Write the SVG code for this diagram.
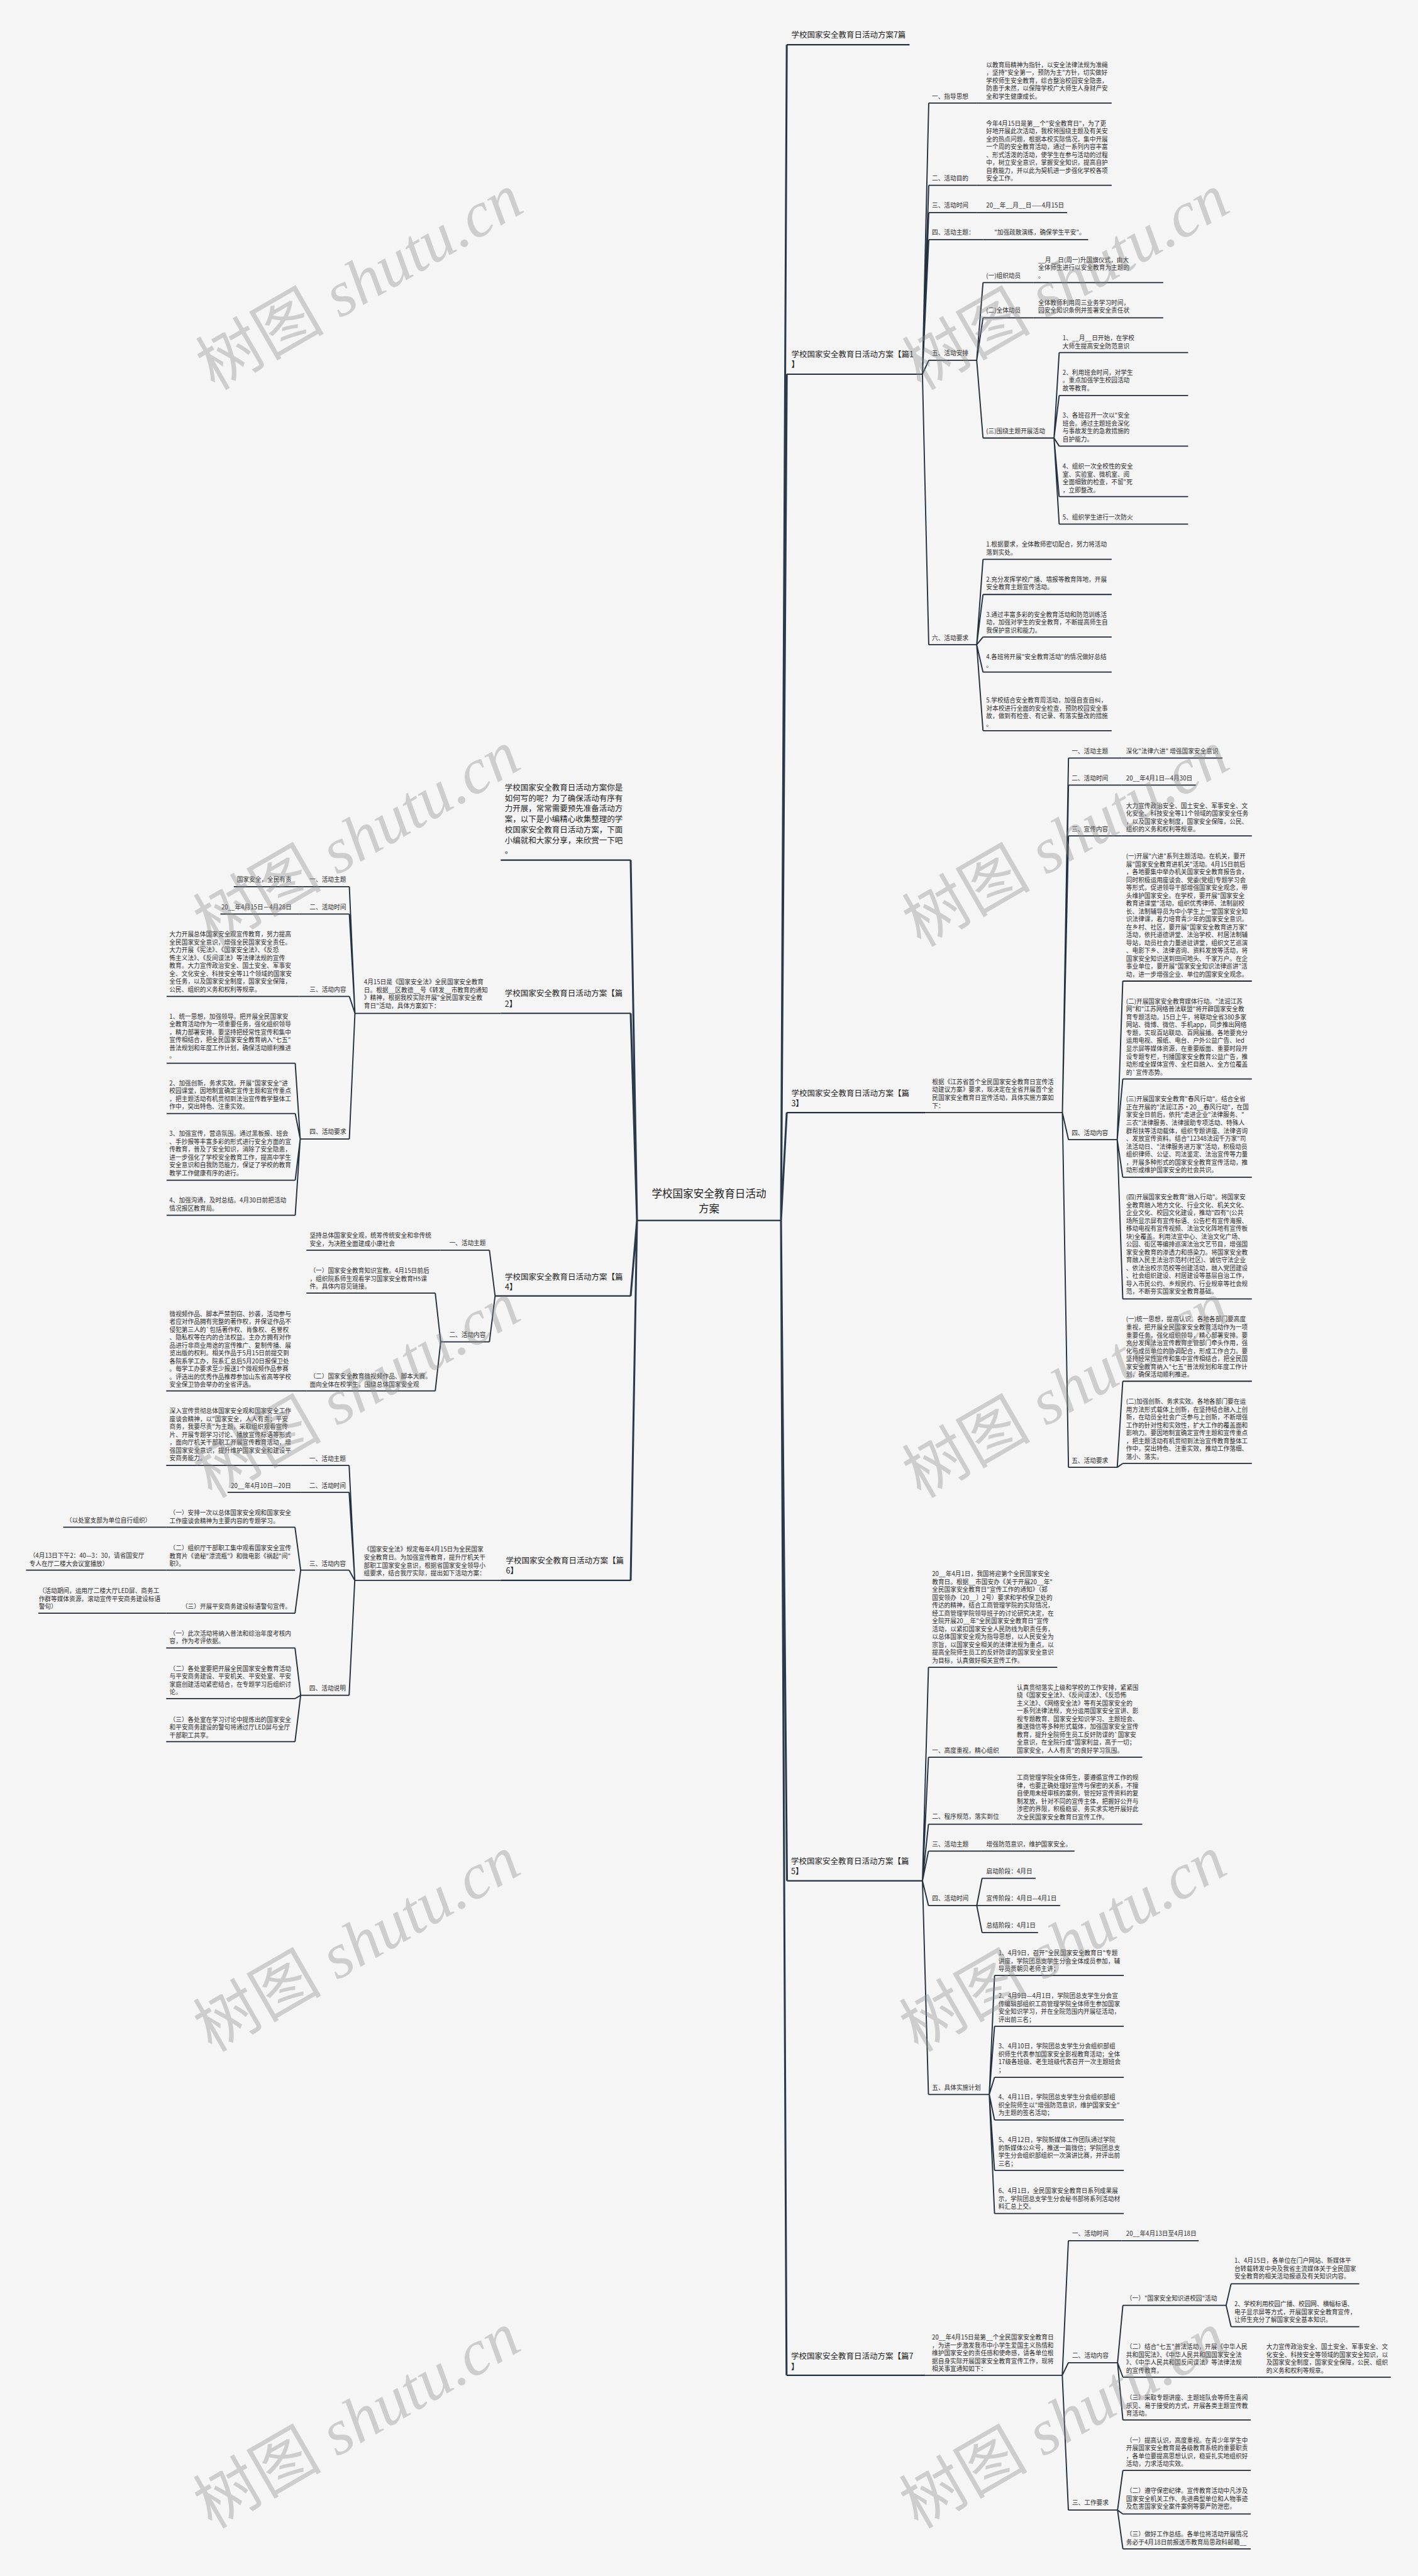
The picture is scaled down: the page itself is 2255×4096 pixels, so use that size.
<svg xmlns="http://www.w3.org/2000/svg" width="2255" height="4096" viewBox="0 0 2255 4096">
<style>
.t{font-family:"Noto Sans CJK SC","Noto Sans",sans-serif;font-size:11px;fill:#2b2b2b}
.h{font-size:14.2px;fill:#222}
.c{font-size:18.8px;fill:#1e1e1e;text-anchor:middle}
.u{stroke:#1f2a36;stroke-width:2;fill:none}
.ut{stroke:#22303f;stroke-width:2.5;fill:none}
.k1{stroke:#2a3a4b;stroke-width:3.5;fill:none}
.k2{stroke:#25323f;stroke-width:2.2;fill:none}
.wm{font-size:116px;fill:#8c8c8c;fill-opacity:.38}
</style>
<rect width="2255" height="4096" fill="#f5f5f5"/>
<g transform="scale(0.880859)">

<g id="connectors">
<path class="k1" d="M1410 2203L1420.4 80.8M1410 2203L1420.4 675.5M1410 2203L1420.4 2008.5M1410 2203L1420.8 3395.1M1410 2203L1420 4287.7M1150 2203L1138.6 1552.5M1150 2203L1138.6 1829.2M1150 2203L1138.6 2339.3M1150 2203L1138.6 2852.8"/>
<path class="k2" d="M1665.3 675.5L1676.7 186M1665.3 675.5L1676.7 334.6M1665.3 675.5L1676.7 383.9M1665.3 675.5L1676.7 432.7M1665.3 675.5L1676.7 650.3M1665.3 675.5L1676.7 1163.9
M1763.3 650.3L1774.7 510.1M1763.3 650.3L1774.7 573.7M1763.3 650.3L1774.7 790.7
M1902.9 790.7L1912.2 636.4M1902.9 790.7L1912.2 714M1902.9 790.7L1912.2 805.3M1902.9 790.7L1912.2 896.5M1902.9 790.7L1912.2 946.2
M1763.3 1163.9L1774.7 1009.7M1763.3 1163.9L1774.7 1073.1M1763.3 1163.9L1774.7 1149.8M1763.3 1163.9L1774.7 1213.2M1763.3 1163.9L1774.7 1318.9
M1918 2008.5L1929 1368.3M1918 2008.5L1929 1417.3M1918 2008.5L1929 1509M1918 2008.5L1929 2057.3M1918 2008.5L1929 2648.7
M2017 2057.3L2027 1771M2017 2057.3L2027 1947.7M2017 2057.3L2027 2125M2017 2057.3L2027 2344.7
M2017 2648.7L2027 2493.3M2017 2648.7L2027 2641.7
M1665.4 3395.1L1676.2 3009.7M1665.4 3395.1L1676.2 3172M1665.4 3395.1L1676.2 3292.9M1665.4 3395.1L1676.2 3341.5M1665.4 3395.1L1676.2 3439.8M1665.4 3395.1L1676.2 3780.7
M1763.4 3439.8L1773 3390.5M1763.4 3439.8L1773 3488.5
M1786 3780.7L1795.5 3566M1786 3780.7L1795.5 3657.7M1786 3780.7L1795.5 3749.8M1786 3780.7L1795.5 3826.9M1786 3780.7L1795.5 3917.9M1786 3780.7L1795.5 3995.8
M1917.8 4287.7L1928.8 4044.7M1917.8 4287.7L1928.8 4264.9M1917.8 4287.7L1928.8 4531
M2017.6 4264.9L2027.2 4161.4M2017.6 4264.9L2027.2 4291M2017.6 4264.9L2027.2 4368.4
M2213.6 4161.4L2222.5 4122.5M2213.6 4161.4L2222.5 4199.9
M2017.6 4531L2027.2 4459.4M2017.6 4531L2027.2 4538.1M2017.6 4531L2027.2 4601
M640.8 1829.2L630.7 1600.7M640.8 1829.2L630.7 1650M640.8 1829.2L630.7 1798.7M640.8 1829.2L630.7 2056
M542 2056L533 1919.3M542 2056L533 2010M542 2056L533 2130.5M542 2056L533 2193.7
M893.8 2339.3L883.6 2256.7M893.8 2339.3L883.6 2422.3
M795.6 2422.3L785.8 2334.3M795.6 2422.3L785.8 2510.7
M640.5 2852.8L630.3 2645.2M640.5 2852.8L630.3 2693.9M640.5 2852.8L630.3 2834.4M640.5 2852.8L630.3 3060.3
M542.8 2834.4L532.6 2756.8M542.8 2834.4L532.6 2912
M542.8 3060.3L532.6 2974.9M542.8 3060.3L532.6 3066.3M542.8 3060.3L532.6 3143.9"/>
</g>

<g id="root">
<text class="t c" x="1280" y="2162">学校国家安全教育日活动<tspan x="1280" dy="26.6">方案</tspan></text>
<path class="ut" d="M1150 2203H1410"/>
</g>

<g id="p7title">
<text class="t h" x="1428.6" y="68.5">学校国家安全教育日活动方案7篇</text>
<path class="ut" d="M1420.4 80.8H1642"/>
</g>

<g id="p1">
<text class="t h" x="1428.6" y="645">学校国家安全教育日活动方案【篇1<tspan x="1428.6" dy="18">】</tspan></text>
<path class="ut" d="M1420.4 675.5H1665.3"/>
</g>
<g id="p1-s1">
<text class="t" x="1682.4" y="178">一、指导思想</text>
<path class="u" d="M1676.7 186H1763.3"/>
</g>
<g id="p1-s1-l">
<text class="t" x="1780.4" y="121">以教育局精神为指针，以安全法律法规为准绳<tspan x="1780.4" dy="14.2">，坚持"安全第一，预防为主"方针，切实做好</tspan><tspan x="1780.4" dy="14.2">学校师生安全教育，综合整治校园安全隐患，</tspan><tspan x="1780.4" dy="14.2">防患于未然，以保障学校广大师生人身财产安</tspan><tspan x="1780.4" dy="14.2">全和学生健康成长。</tspan></text>
<path class="u" d="M1763.3 186H2007"/>
</g>
<g id="p1-s2">
<text class="t" x="1682.4" y="326">二、活动目的</text>
<path class="u" d="M1676.7 334.6H1763.3"/>
</g>
<g id="p1-s2-l">
<text class="t" x="1780.4" y="226.6">今年4月15日是第__个"安全教育日"，为了更<tspan x="1780.4" dy="14.2">好地开展此次活动，我校将围绕主题及有关安</tspan><tspan x="1780.4" dy="14.2">全的热点问题，根据本校实际情况，集中开展</tspan><tspan x="1780.4" dy="14.2">一个周的安全教育活动，通过一系列内容丰富</tspan><tspan x="1780.4" dy="14.2">、形式活泼的活动，使学生在参与活动的过程</tspan><tspan x="1780.4" dy="14.2">中，树立安全意识，掌握安全知识，提高自护</tspan><tspan x="1780.4" dy="14.2">自救能力，并以此为契机进一步强化学校各项</tspan><tspan x="1780.4" dy="14.2">安全工作。</tspan></text>
<path class="u" d="M1763.3 334.6H2007"/>
</g>
<g id="p1-s3">
<text class="t" x="1682.4" y="375.2">三、活动时间</text>
<path class="u" d="M1676.7 383.9H1763.3"/>
</g>
<g id="p1-s3-l">
<text class="t" x="1780.4" y="375.2">20__年__月__日——4月15日</text>
<path class="u" d="M1763.3 383.9H1926.5"/>
</g>
<g id="p1-s4">
<text class="t" x="1682.4" y="424">四、活动主题：</text>
<path class="u" d="M1676.7 432.7H1775"/>
</g>
<g id="p1-s4-l">
<text class="t" x="1795" y="424">"加强疏散演练，确保学生平安"。</text>
<path class="u" d="M1775 432.7H1964.5"/>
</g>
<g id="p1-s5">
<text class="t" x="1682.4" y="641.6">五、活动安排</text>
<path class="u" d="M1676.7 650.3H1763.3"/>
</g>
<g id="p1-s5-a">
<text class="t" x="1780.4" y="501.6">(一)组织动员</text>
<path class="u" d="M1774.7 510.1H1866"/>
</g>
<g id="p1-s5-a-l">
<text class="t" x="1874.3" y="473.3">__月__日(周一)升国旗仪式，由大<tspan x="1874.3" dy="14.2">全体师生进行以安全教育为主题的</tspan><tspan x="1874.3" dy="14.2">。</tspan></text>
<path class="u" d="M1866 510.1H2100"/>
</g>
<g id="p1-s5-b">
<text class="t" x="1780.4" y="564.6">(二)全体动员</text>
<path class="u" d="M1774.7 573.7H1866"/>
</g>
<g id="p1-s5-b-l">
<text class="t" x="1874.3" y="550.3">全体教师利用周三业务学习时间，<tspan x="1874.3" dy="14.2">园安全知识条例并签署安全责任状</tspan></text>
<path class="u" d="M1866 573.7H2100"/>
</g>
<g id="p1-s5-c">
<text class="t" x="1780.4" y="782.3">(三)围绕主题开展活动</text>
<path class="u" d="M1774.7 790.7H1902.9"/>
</g>
<g id="p1-s5-c1">
<text class="t" x="1918.4" y="614.3">1、__月__日开始，在学校<tspan x="1918.4" dy="14.2">大师生提高安全防范意识</tspan></text>
<path class="u" d="M1912.2 636.4H2145"/>
</g>
<g id="p1-s5-c2">
<text class="t" x="1918.4" y="676.6">2、利用班会时间，对学生<tspan x="1918.4" dy="14.2">。重点加强学生校园活动</tspan><tspan x="1918.4" dy="14.2">故等教育。</tspan></text>
<path class="u" d="M1912.2 714H2145"/>
</g>
<g id="p1-s5-c3">
<text class="t" x="1918.4" y="754">3、各班召开一次以"安全<tspan x="1918.4" dy="14.2">班会。通过主题班会深化</tspan><tspan x="1918.4" dy="14.2">与事故发生的急救措施的</tspan><tspan x="1918.4" dy="14.2">自护能力。</tspan></text>
<path class="u" d="M1912.2 805.3H2145"/>
</g>
<g id="p1-s5-c4">
<text class="t" x="1918.4" y="846.2">4、组织一次全校性的安全<tspan x="1918.4" dy="14.2">室、实验室、微机室、阅</tspan><tspan x="1918.4" dy="14.2">全面细致的检查，不留"死</tspan><tspan x="1918.4" dy="14.2">，立即整改。</tspan></text>
<path class="u" d="M1912.2 896.5H2145"/>
</g>
<g id="p1-s5-c5">
<text class="t" x="1918.4" y="937.8">5、组织学生进行一次防火</text>
<path class="u" d="M1912.2 946.2H2145"/>
</g>
<g id="p1-s6">
<text class="t" x="1682.4" y="1155.4">六、活动要求</text>
<path class="u" d="M1676.7 1163.9H1763.3"/>
</g>
<g id="p1-s6-1">
<text class="t" x="1780.4" y="986.7">1.根据要求，全体教师密切配合，努力将活动<tspan x="1780.4" dy="14.2">落到实处。</tspan></text>
<path class="u" d="M1774.7 1009.7H2007"/>
</g>
<g id="p1-s6-2">
<text class="t" x="1780.4" y="1049.7">2.充分发挥学校广播、墙报等教育阵地，开展<tspan x="1780.4" dy="14.2">安全教育主题宣传活动。</tspan></text>
<path class="u" d="M1774.7 1073.1H2007"/>
</g>
<g id="p1-s6-3">
<text class="t" x="1780.4" y="1113.2">3.通过丰富多彩的安全教育活动和防范训练活<tspan x="1780.4" dy="14.2">动，加强对学生的安全教育，不断提高师生自</tspan><tspan x="1780.4" dy="14.2">我保护意识和能力。</tspan></text>
<path class="u" d="M1774.7 1149.8H2007"/>
</g>
<g id="p1-s6-4">
<text class="t" x="1780.4" y="1190.3">4.各班将开展"安全教育活动"的情况做好总结<tspan x="1780.4" dy="14.2">。</tspan></text>
<path class="u" d="M1774.7 1213.2H2007"/>
</g>
<g id="p1-s6-5">
<text class="t" x="1780.4" y="1268.2">5.学校结合安全教育周活动，加强自查自纠，<tspan x="1780.4" dy="14.2">对本校进行全面的安全检查，预防校园安全事</tspan><tspan x="1780.4" dy="14.2">故，做到有检查、有记录、有落实整改的措施</tspan><tspan x="1780.4" dy="14.2">。</tspan></text>
<path class="u" d="M1774.7 1318.9H2007"/>
</g>

<g id="p3">
<text class="t h" x="1428.6" y="1978.4">学校国家安全教育日活动方案【篇<tspan x="1428.6" dy="19">3】</tspan></text>
<path class="ut" d="M1420.4 2008.5H1670"/>
</g>
<g id="p3-i">
<text class="t" x="1682.8" y="1957">根据《江苏省首个全民国家安全教育日宣传活<tspan x="1682.8" dy="14.3">动建议方案》要求，现决定在全省开展首个全</tspan><tspan x="1682.8" dy="14.3">民国家安全教育日宣传活动，具体实施方案如</tspan><tspan x="1682.8" dy="14.3">下：</tspan></text>
<path class="u" d="M1670 2008.5H1918"/>
</g>
<g id="p3-s1">
<text class="t" x="1934.7" y="1360">一、活动主题</text>
<path class="u" d="M1929 1368.3H2025"/>
</g>
<g id="p3-s1-l">
<text class="t" x="2033" y="1360">深化"法律六进" 增强国家安全意识</text>
<path class="u" d="M2025 1368.3H2207"/>
</g>
<g id="p3-s2">
<text class="t" x="1934.7" y="1409">二、活动时间</text>
<path class="u" d="M1929 1417.3H2025"/>
</g>
<g id="p3-s2-l">
<text class="t" x="2033" y="1409">20__年4月1日—4月30日</text>
<path class="u" d="M2025 1417.3H2159"/>
</g>
<g id="p3-s3">
<text class="t" x="1934.7" y="1500.8">三、宣传内容</text>
<path class="u" d="M1929 1509H2025"/>
</g>
<g id="p3-s3-l">
<text class="t" x="2033" y="1458.3">大力宣传政治安全、国土安全、军事安全、文<tspan x="2033" dy="14.2">化安全、科技安全等11个领域的国家安全任务</tspan><tspan x="2033" dy="14.2">，以及国家安全制度，国家安全保障，公民、</tspan><tspan x="2033" dy="14.2">组织的义务和权利等规章。</tspan></text>
<path class="u" d="M2025 1509H2260"/>
</g>
<g id="p3-s4">
<text class="t" x="1934.7" y="2049.7">四、活动内容</text>
<path class="u" d="M1929 2057.3H2017"/>
</g>
<g id="p3-s4-1">
<text class="t" x="2033" y="1549.7">(一)开展"六进"系列主题活动。在机关，要开<tspan x="2033" dy="14.22">展"国家安全教育进机关"活动。4月15日前后</tspan><tspan x="2033" dy="14.22">，各地要集中举办机关国家安全教育报告会，</tspan><tspan x="2033" dy="14.22">同时积极运用座谈会、党委(党组)专题学习会</tspan><tspan x="2033" dy="14.22">等形式，促进领导干部增强国家安全观念，带</tspan><tspan x="2033" dy="14.22">头维护国家安全。在学校，要开展"国家安全</tspan><tspan x="2033" dy="14.22">教育进课堂"活动，组织优秀律师、法制副校</tspan><tspan x="2033" dy="14.22">长、法制辅导员为中小学生上一堂国家安全知</tspan><tspan x="2033" dy="14.22">识法律课，着力培育青少年的国家安全意识。</tspan><tspan x="2033" dy="14.22">在乡村、社区，要开展"国家安全教育进万家"</tspan><tspan x="2033" dy="14.22">活动，依托道德讲堂、法治学校、村居法制辅</tspan><tspan x="2033" dy="14.22">导站，动员社会力量进驻讲堂，组织文艺巡演</tspan><tspan x="2033" dy="14.22">、电影下乡、法律咨询、资料发放等活动，将</tspan><tspan x="2033" dy="14.22">国家安全知识送到田间地头、千家万户。在企</tspan><tspan x="2033" dy="14.22">事业单位，要开展"国家安全知识法律巡讲"活</tspan><tspan x="2033" dy="14.22">动，进一步增强企业、单位的国家安全观念。</tspan></text>
<path class="u" d="M2027 1771H2260"/>
</g>
<g id="p3-s4-2">
<text class="t" x="2033" y="1811.7">(二)开展国家安全教育媒体行动。"法润江苏<tspan x="2033" dy="14.22">网"和"江苏网络普法联盟"将开辟国家安全教</tspan><tspan x="2033" dy="14.22">育专题活动。15日上午，将联动全省380多家</tspan><tspan x="2033" dy="14.22">网站、微博、微信、手机app，同步推出网络</tspan><tspan x="2033" dy="14.22">专题，实现百站联动、百网展播。各地要充分</tspan><tspan x="2033" dy="14.22">运用电视、报纸、电台、户外公益广告、led</tspan><tspan x="2033" dy="14.22">显示屏等媒体资源，在重要版面、重要时段开</tspan><tspan x="2033" dy="14.22">设专题专栏，刊播国家安全教育公益广告，推</tspan><tspan x="2033" dy="14.22">动形成全媒体宣传、全栏目融入、全方位覆盖</tspan><tspan x="2033" dy="14.22">的`宣传态势。</tspan></text>
<path class="u" d="M2027 1947.7H2260"/>
</g>
<g id="p3-s4-3">
<text class="t" x="2033" y="1988.3">(三)开展国家安全教育"春风行动"。结合全省<tspan x="2033" dy="14.22">正在开展的"法润江苏·20__春风行动"，在国</tspan><tspan x="2033" dy="14.22">家安全日前后，依托"走进企业"法律服务、"</tspan><tspan x="2033" dy="14.22">三农"法律服务、法律援助专项活动、特殊人</tspan><tspan x="2033" dy="14.22">群帮扶等活动载体，组织专题讲座、法律咨询</tspan><tspan x="2033" dy="14.22">、发放宣传资料。结合"12348法润千万家"司</tspan><tspan x="2033" dy="14.22">法活动日、"法律服务进万家"活动，积极动员</tspan><tspan x="2033" dy="14.22">组织律师、公证、司法鉴定、法治宣传等力量</tspan><tspan x="2033" dy="14.22">，开展多种形式的国家安全教育宣传活动，推</tspan><tspan x="2033" dy="14.22">动形成维护国家安全的社会共识。</tspan></text>
<path class="u" d="M2027 2125H2260"/>
</g>
<g id="p3-s4-4">
<text class="t" x="2033" y="2165">(四)开展国家安全教育"融入行动"。将国家安<tspan x="2033" dy="14.22">全教育融入地方文化、行业文化、机关文化、</tspan><tspan x="2033" dy="14.22">企业文化、校园文化建设，推动"四有"(公共</tspan><tspan x="2033" dy="14.22">场所显示屏有宣传标语、公告栏有宣传海报、</tspan><tspan x="2033" dy="14.22">移动电视有宣传视频、法治文化阵地有宣传板</tspan><tspan x="2033" dy="14.22">块)全覆盖。利用法宣中心、法治文化广场、</tspan><tspan x="2033" dy="14.22">公园、街区等编排巡演法治文艺节目，增强国</tspan><tspan x="2033" dy="14.22">家安全教育的渗透力和感染力。将国家安全教</tspan><tspan x="2033" dy="14.22">育融入民主法治示范村(社区)、诚信守法企业</tspan><tspan x="2033" dy="14.22">、依法治校示范校等创建活动，融入党团建设</tspan><tspan x="2033" dy="14.22">、社会组织建设、村居建设等基层自治工作，</tspan><tspan x="2033" dy="14.22">导入市民公约、乡规民约、行业规章等社会规</tspan><tspan x="2033" dy="14.22">范，不断夯实国家安全教育基础。</tspan></text>
<path class="u" d="M2027 2344.7H2260"/>
</g>
<g id="p3-s5">
<text class="t" x="1934.7" y="2640.7">五、活动要求</text>
<path class="u" d="M1929 2648.7H2017"/>
</g>
<g id="p3-s5-1">
<text class="t" x="2033" y="2385.7">(一)统一思想，提高认识。各地各部门要高度<tspan x="2033" dy="14.22">重视，把开展全民国家安全教育活动作为一项</tspan><tspan x="2033" dy="14.22">重要任务，强化组织领导，精心部署安排。要</tspan><tspan x="2033" dy="14.22">充分发挥法治宣传教育主管部门牵头作用，强</tspan><tspan x="2033" dy="14.22">化与成员单位的协调配合，形成工作合力。要</tspan><tspan x="2033" dy="14.22">坚持经常性宣传和集中宣传相结合，把全民国</tspan><tspan x="2033" dy="14.22">家安全教育纳入"七五"普法规划和年度工作计</tspan><tspan x="2033" dy="14.22">划，确保活动顺利推进。</tspan></text>
<path class="u" d="M2027 2493.3H2260"/>
</g>
<g id="p3-s5-2">
<text class="t" x="2033" y="2534">(二)加强创新、务求实效。各地各部门要在运<tspan x="2033" dy="14.22">用方法形式载体上创新，在坚持结合融入上创</tspan><tspan x="2033" dy="14.22">新，在动员全社会广泛参与上创新，不断增强</tspan><tspan x="2033" dy="14.22">工作的针对性和实效性，扩大工作的覆盖面和</tspan><tspan x="2033" dy="14.22">影响力。要因地制宜确定宣传主题和宣传重点</tspan><tspan x="2033" dy="14.22">，把主题活动有机贯彻到法治宣传教育整体工</tspan><tspan x="2033" dy="14.22">作中，突出特色、注重实效，推动工作落细、</tspan><tspan x="2033" dy="14.22">落小、落实。</tspan></text>
<path class="u" d="M2027 2641.7H2260"/>
</g>

<g id="p5">
<text class="t h" x="1428.2" y="3365.3">学校国家安全教育日活动方案【篇<tspan x="1428.2" dy="18">5】</tspan></text>
<path class="ut" d="M1420.8 3395.1H1665.4"/>
</g>
<g id="p5-i">
<text class="t" x="1682.7" y="2845">20__年4月1日，我国将迎第个全民国家安全<tspan x="1682.7" dy="14.2">教育日。根据__市国安办《关于开展20__年"</tspan><tspan x="1682.7" dy="14.2">全民国家安全教育日"宣传工作的通知》（郑</tspan><tspan x="1682.7" dy="14.2">国安领办〔20__〕2号）要求和学校保卫处的</tspan><tspan x="1682.7" dy="14.2">传达的精神，结合工商管理学院的实际情况，</tspan><tspan x="1682.7" dy="14.2">经工商管理学院领导班子的讨论研究决定，在</tspan><tspan x="1682.7" dy="14.2">全院开展20__年"全民国家安全教育日"宣传</tspan><tspan x="1682.7" dy="14.2">活动，以紧扣国家安全人民防线为职责任务，</tspan><tspan x="1682.7" dy="14.2">以总体国家安全观为指导思想，以人民安全为</tspan><tspan x="1682.7" dy="14.2">宗旨，以国家安全相关的法律法规为重点，以</tspan><tspan x="1682.7" dy="14.2">提高全院师生员工的反奸防谍的国家安全意识</tspan><tspan x="1682.7" dy="14.2">为目标，认真做好相关宣传工作。</tspan></text>
<path class="u" d="M1676.2 3009.7H1908.7"/>
</g>
<g id="p5-s1">
<text class="t" x="1682.7" y="3163.7">一、高度重视，精心组织</text>
<path class="u" d="M1676.2 3172H1826"/>
</g>
<g id="p5-s1-l">
<text class="t" x="1835.8" y="3050.1">认真贯彻落实上级和学校的工作安排，紧紧围<tspan x="1835.8" dy="14.2">绕《国家安全法》、《反间谍法》、《反恐怖</tspan><tspan x="1835.8" dy="14.2">主义法》、《网络安全法》等有关国家安全的</tspan><tspan x="1835.8" dy="14.2">一系列法律法规，充分运用国家安全宣讲、影</tspan><tspan x="1835.8" dy="14.2">视专题教育、国家安全知识学习、主题班会、</tspan><tspan x="1835.8" dy="14.2">推送微信等多种形式载体，加强国家安全宣传</tspan><tspan x="1835.8" dy="14.2">教育，提升全院师生员工反奸防谍的`国家安</tspan><tspan x="1835.8" dy="14.2">全意识，在全院行成"国家利益，高于一切；</tspan><tspan x="1835.8" dy="14.2">国家安全，人人有责"的良好学习氛围。</tspan></text>
<path class="u" d="M1826 3172H2062.2"/>
</g>
<g id="p5-s2">
<text class="t" x="1682.7" y="3283.5">二、程序规范，落实到位</text>
<path class="u" d="M1676.2 3292.9H1826"/>
</g>
<g id="p5-s2-l">
<text class="t" x="1835.8" y="3213.1">工商管理学院全体师生，要遵循宣传工作的规<tspan x="1835.8" dy="14.2">律，也要正确处理好宣传与保密的关系，不擅</tspan><tspan x="1835.8" dy="14.2">自使用未经审核的案例，管控好宣传资料的复</tspan><tspan x="1835.8" dy="14.2">制发放，针对不同的宣传主体，把握好公开与</tspan><tspan x="1835.8" dy="14.2">涉密的界限，积极稳妥、务实求实地开展好此</tspan><tspan x="1835.8" dy="14.2">次全民国家安全教育日宣传工作。</tspan></text>
<path class="u" d="M1826 3292.9H2062.2"/>
</g>
<g id="p5-s3">
<text class="t" x="1682.7" y="3333.3">三、活动主题</text>
<path class="u" d="M1676.2 3341.5H1772"/>
</g>
<g id="p5-s3-l">
<text class="t" x="1780.7" y="3333.3">增强防范意识，维护国家安全。</text>
<path class="u" d="M1772 3341.5H1939.9"/>
</g>
<g id="p5-s4">
<text class="t" x="1682.7" y="3430.8">四、活动时间</text>
<path class="u" d="M1676.2 3439.8H1763.4"/>
</g>
<g id="p5-s4-1">
<text class="t" x="1780.7" y="3381.9">启动阶段：4月日</text>
<path class="u" d="M1773 3390.5H1869.6"/>
</g>
<g id="p5-s4-2">
<text class="t" x="1780.7" y="3430.8">宣传阶段：4月日—4月1日</text>
<path class="u" d="M1763.4 3439.8H1913.9"/>
</g>
<g id="p5-s4-3">
<text class="t" x="1780.7" y="3479.8">总结阶段：4月1日</text>
<path class="u" d="M1773 3488.5H1874"/>
</g>
<g id="p5-s5">
<text class="t" x="1682.7" y="3772.4">五、具体实施计划</text>
<path class="u" d="M1676.2 3780.7H1786"/>
</g>
<g id="p5-s5-1">
<text class="t" x="1802.4" y="3529.6">1、4月9日，召开"全民国家安全教育日"专题<tspan x="1802.4" dy="14.2">讲座，学院团总支学生分会全体成员参加，辅</tspan><tspan x="1802.4" dy="14.2">导员贾朝贝老师主讲；</tspan></text>
<path class="u" d="M1795.5 3566H2028.8"/>
</g>
<g id="p5-s5-2">
<text class="t" x="1802.4" y="3606.7">2、4月9日—4月1日，学院团总支学生分会宣<tspan x="1802.4" dy="14.2">传编辑部组织工商管理学院全体师生参加国家</tspan><tspan x="1802.4" dy="14.2">安全知识学习，并在全院范围内开展征活动，</tspan><tspan x="1802.4" dy="14.2">评出前三名；</tspan></text>
<path class="u" d="M1795.5 3657.7H2028.8"/>
</g>
<g id="p5-s5-3">
<text class="t" x="1802.4" y="3698">3、4月10日，学院团总支学生分会组织部组<tspan x="1802.4" dy="14.2">织师生代表参加国家安全影视教育活动；全体</tspan><tspan x="1802.4" dy="14.2">17级各班级、老生班级代表召开一次主题班会</tspan><tspan x="1802.4" dy="14.2">；</tspan></text>
<path class="u" d="M1795.5 3749.8H2028.8"/>
</g>
<g id="p5-s5-4">
<text class="t" x="1802.4" y="3789.8">4、4月11日，学院团总支学生分会组织部组<tspan x="1802.4" dy="14.2">织全院师生以"增强防范意识，维护国家安全"</tspan><tspan x="1802.4" dy="14.2">为主题的签名活动；</tspan></text>
<path class="u" d="M1795.5 3826.9H2028.8"/>
</g>
<g id="p5-s5-5">
<text class="t" x="1802.4" y="3866.9">5、4月12日，学院新媒体工作团队通过学院<tspan x="1802.4" dy="14.2">的新媒体公众号，推送一篇微信；学院团总支</tspan><tspan x="1802.4" dy="14.2">学生分会组织部组织一次演讲比赛，并评出前</tspan><tspan x="1802.4" dy="14.2">三名；</tspan></text>
<path class="u" d="M1795.5 3917.9H2028.8"/>
</g>
<g id="p5-s5-6">
<text class="t" x="1802.4" y="3958.7">6、4月1日，全民国家安全教育日系列成果展<tspan x="1802.4" dy="14.2">示，学院团总支学生分会秘书部将系列活动材</tspan><tspan x="1802.4" dy="14.2">料汇总上交。</tspan></text>
<path class="u" d="M1795.5 3995.8H2028.8"/>
</g>

<g id="p7">
<text class="t h" x="1428.1" y="4258.7">学校国家安全教育日活动方案【篇7<tspan x="1428.1" dy="18.6">】</tspan></text>
<path class="ut" d="M1420 4287.7H1670"/>
</g>
<g id="p7-i">
<text class="t" x="1682.5" y="4223.4">20__年4月15日是第__个全民国家安全教育日<tspan x="1682.5" dy="14.2">，为进一步激发我市中小学生爱国主义热情和</tspan><tspan x="1682.5" dy="14.2">维护国家安全的责任感和使命感，请各单位根</tspan><tspan x="1682.5" dy="14.2">据自身实际开展国家安全教育宣传工作，现将</tspan><tspan x="1682.5" dy="14.2">相关事宜通知如下：</tspan></text>
<path class="u" d="M1670 4287.7H1917.8"/>
</g>
<g id="p7-s1">
<text class="t" x="1935.5" y="4036.3">一、活动时间</text>
<path class="u" d="M1928.8 4044.7H2025"/>
</g>
<g id="p7-s1-l">
<text class="t" x="2033.1" y="4036.3">20__年4月13日至4月18日</text>
<path class="u" d="M2025 4044.7H2164"/>
</g>
<g id="p7-s2">
<text class="t" x="1935.5" y="4256.5">二、活动内容</text>
<path class="u" d="M1928.8 4264.9H2017.6"/>
</g>
<g id="p7-s2-1">
<text class="t" x="2033.1" y="4152.2">（一）"国家安全知识进校园"活动</text>
<path class="u" d="M2027.2 4161.4H2213.6"/>
</g>
<g id="p7-s2-1a">
<text class="t" x="2228.4" y="4085.1">1、4月15日，各单位在门户网站、新媒体平<tspan x="2228.4" dy="14.2">台转载转发中央及我省主流媒体关于全民国家</tspan><tspan x="2228.4" dy="14.2">安全教育的相关活动报道及有关知识内容。</tspan></text>
<path class="u" d="M2222.5 4122.5H2454"/>
</g>
<g id="p7-s2-1b">
<text class="t" x="2228.4" y="4163.4">2、学校利用校园广播、校园网、横幅标语、<tspan x="2228.4" dy="14.2">电子显示屏等方式，开展国家安全教育宣传，</tspan><tspan x="2228.4" dy="14.2">让师生充分了解国家安全基本知识。</tspan></text>
<path class="u" d="M2222.5 4199.9H2454"/>
</g>
<g id="p7-s2-2">
<text class="t" x="2033.1" y="4240.3">（二）结合"七五"普法活动，开展《中华人民<tspan x="2033.1" dy="14.2">共和国宪法》、《中华人民共和国国家安全法</tspan><tspan x="2033.1" dy="14.2">》、《中华人民共和国反间谍法》等法律法规</tspan><tspan x="2033.1" dy="14.2">的宣传教育。</tspan></text>
<path class="u" d="M2027.2 4291H2270"/>
</g>
<g id="p7-s2-2a">
<text class="t" x="2286.1" y="4240.3">大力宣传政治安全、国土安全、军事安全、文<tspan x="2286.1" dy="14.2">化安全、科技安全等领域的国家安全知识，以</tspan><tspan x="2286.1" dy="14.2">及国家安全制度，国家安全保障，公民、组织</tspan><tspan x="2286.1" dy="14.2">的义务和权利等规章。</tspan></text>
<path class="u" d="M2270 4291H2511"/>
</g>
<g id="p7-s2-3">
<text class="t" x="2033.1" y="4332.2">（三）采取专题讲座、主题班队会等师生喜闻<tspan x="2033.1" dy="14.2">乐见、易于接受的方式，开展各类主题宣传教</tspan><tspan x="2033.1" dy="14.2">育活动。</tspan></text>
<path class="u" d="M2027.2 4368.4H2258"/>
</g>
<g id="p7-s3">
<text class="t" x="1935.5" y="4522.2">三、工作要求</text>
<path class="u" d="M1928.8 4531H2017.6"/>
</g>
<g id="p7-s3-1">
<text class="t" x="2033.1" y="4408.8">（一）提高认识，高度重视。在青少年学生中<tspan x="2033.1" dy="14.2">开展国家安全教育是各级教育系统的重要职责</tspan><tspan x="2033.1" dy="14.2">，各单位要提高思想认识，稳妥扎实地组织好</tspan><tspan x="2033.1" dy="14.2">活动，力求活动实效。</tspan></text>
<path class="u" d="M2027.2 4459.4H2258"/>
</g>
<g id="p7-s3-2">
<text class="t" x="2033.1" y="4500.7">（二）遵守保密纪律。宣传教育活动中凡涉及<tspan x="2033.1" dy="14.2">国家安全机关工作、先进典型单位和人物事迹</tspan><tspan x="2033.1" dy="14.2">及危害国家安全案件案例等要严防泄密。</tspan></text>
<path class="u" d="M2027.2 4538.1H2258"/>
</g>
<g id="p7-s3-3">
<text class="t" x="2033.1" y="4578.5">（三）做好工作总结。各单位将活动开展情况<tspan x="2033.1" dy="14.2">务必于4月18日前报送市教育局思政科邮箱__</tspan></text>
<path class="u" d="M2027.2 4601H2258"/>
</g>

<g id="intro">
<text class="t h" x="911.3" y="1427">学校国家安全教育日活动方案你是<tspan x="911.3" dy="19">如何写的呢？为了确保活动有序有</tspan><tspan x="911.3" dy="19">力开展，常常需要预先准备活动方</tspan><tspan x="911.3" dy="19">案，以下是小编精心收集整理的学</tspan><tspan x="911.3" dy="19">校国家安全教育日活动方案，下面</tspan><tspan x="911.3" dy="19">小编就和大家分享，来欣赏一下吧</tspan><tspan x="911.3" dy="19">。</tspan></text>
<path class="ut" d="M904 1552.5H1138.6"/>
</g>

<g id="p2">
<text class="t h" x="911.3" y="1798.4">学校国家安全教育日活动方案【篇<tspan x="911.3" dy="19">2】</tspan></text>
<path class="ut" d="M904 1829.2H1138.6"/>
</g>
<g id="p2-i">
<text class="t" x="657.1" y="1777">4月15日是《国家安全法》全民国家安全教育<tspan x="657.1" dy="14.3">日。根据__区教德__号《转发__市教育的通知</tspan><tspan x="657.1" dy="14.3">》精神，根据我校实际开展"全民国家安全教</tspan><tspan x="657.1" dy="14.3">育日"活动，具体方案如下：</tspan></text>
<path class="u" d="M640.8 1829.2H904"/>
</g>
<g id="p2-s1">
<text class="t" x="558.9" y="1592">一、活动主题</text>
<path class="u" d="M540 1600.7H630.7"/>
</g>
<g id="p2-s1-l">
<text class="t" x="427.6" y="1592">国家安全，全民有责</text>
<path class="u" d="M422 1600.7H540"/>
</g>
<g id="p2-s2">
<text class="t" x="558.9" y="1641.4">二、活动时间</text>
<path class="u" d="M540 1650H630.7"/>
</g>
<g id="p2-s2-l">
<text class="t" x="399.5" y="1641.4">20__年4月15日－4月28日</text>
<path class="u" d="M397.8 1650H540"/>
</g>
<g id="p2-s3">
<text class="t" x="558.9" y="1790">三、活动内容</text>
<path class="u" d="M540 1798.7H630.7"/>
</g>
<g id="p2-s3-l">
<text class="t" x="305.8" y="1690.8">大力开展总体国家安全观宣传教育，努力提高<tspan x="305.8" dy="14.2">全民国家安全意识，增强全民国家安全责任。</tspan><tspan x="305.8" dy="14.2">大力开展《宪法》、《国家安全法》、《反恐</tspan><tspan x="305.8" dy="14.2">怖主义法》、《反间谍法》等法律法规的宣传</tspan><tspan x="305.8" dy="14.2">教育。大力宣传政治安全、国土安全、军事安</tspan><tspan x="305.8" dy="14.2">全、文化安全、科技安全等11个领域的国家安</tspan><tspan x="305.8" dy="14.2">全任务，以及国家安全制度，国家安全保障，</tspan><tspan x="305.8" dy="14.2">公民、组织的义务和权利等规章。</tspan></text>
<path class="u" d="M300.8 1798.7H540"/>
</g>
<g id="p2-s4">
<text class="t" x="558.9" y="2047.3">四、活动要求</text>
<path class="u" d="M542 2056H630.7"/>
</g>
<g id="p2-s4-1">
<text class="t" x="305.8" y="1838.9">1、统一思想，加强领导。把开展全民国家安<tspan x="305.8" dy="14.2">全教育活动作为一项重要任务，强化组织领导</tspan><tspan x="305.8" dy="14.2">，精力部署安排。要坚持把经常性宣传和集中</tspan><tspan x="305.8" dy="14.2">宣传相结合，把全民国家安全教育纳入"七五"</tspan><tspan x="305.8" dy="14.2">普法规划和年度工作计划，确保活动顺利推进</tspan><tspan x="305.8" dy="14.2">。</tspan></text>
<path class="u" d="M300.8 1919.3H533"/>
</g>
<g id="p2-s4-2">
<text class="t" x="305.8" y="1959.4">2、加强创新，务求实效。开展"国家安全"进<tspan x="305.8" dy="14.2">校园课堂，因地制宜确定宣传主题和宣传重点</tspan><tspan x="305.8" dy="14.2">，把主题活动有机贯彻到法治宣传教学整体工</tspan><tspan x="305.8" dy="14.2">作中，突出特色、注重实效。</tspan></text>
<path class="u" d="M300.8 2010H533"/>
</g>
<g id="p2-s4-3">
<text class="t" x="305.8" y="2050.7">3、加强宣传，营造氛围。通过黑板报、班会<tspan x="305.8" dy="14.2">、手抄报等丰富多彩的形式进行安全方面的宣</tspan><tspan x="305.8" dy="14.2">传教育，普及了安全知识，消除了安全隐患，</tspan><tspan x="305.8" dy="14.2">进一步强化了学校安全教育工作，提高中学生</tspan><tspan x="305.8" dy="14.2">安全意识和自我防范能力，保证了学校的教育</tspan><tspan x="305.8" dy="14.2">教学工作健康有序的进行。</tspan></text>
<path class="u" d="M300.8 2130.5H533"/>
</g>
<g id="p2-s4-4">
<text class="t" x="305.8" y="2170.7">4、加强沟通，及时总结。4月30日前把活动<tspan x="305.8" dy="14.2">情况报区教育局。</tspan></text>
<path class="u" d="M300.8 2193.7H533"/>
</g>

<g id="p4">
<text class="t h" x="911.7" y="2309.7">学校国家安全教育日活动方案【篇<tspan x="911.7" dy="19">4】</tspan></text>
<path class="ut" d="M893.8 2339.3H1138.6"/>
</g>
<g id="p4-s1">
<text class="t" x="811" y="2248.3">一、活动主题</text>
<path class="u" d="M795.6 2256.7H883.6"/>
</g>
<g id="p4-s1-l">
<text class="t" x="559" y="2234.7">坚持总体国家安全观，统筹传统安全和非传统<tspan x="559" dy="14.2">安全，为决胜全面建成小康社会</tspan></text>
<path class="u" d="M553.2 2256.7H795.6"/>
</g>
<g id="p4-s2">
<text class="t" x="811" y="2414">二、活动内容</text>
<path class="u" d="M795.6 2422.3H883.6"/>
</g>
<g id="p4-s2-1">
<text class="t" x="559" y="2298">（一）国家安全教育知识宣教。4月15日前后<tspan x="559" dy="14.2">，组织院系师生观看学习国家安全教育H5课</tspan><tspan x="559" dy="14.2">件。具体内容见链接。</tspan></text>
<path class="u" d="M553.2 2334.3H785.8"/>
</g>
<g id="p4-s2-2">
<text class="t" x="559" y="2489">（二）国家安全教育微视频作品、脚本大赛。<tspan x="559" dy="14.2">面向全体在校学生，围绕总体国家安全观</tspan></text>
<path class="u" d="M553.2 2510.7H785.8"/>
</g>
<g id="p4-s2-2a">
<text class="t" x="305.9" y="2375.7">微视频作品、脚本严禁剽窃、抄袭，活动参与<tspan x="305.9" dy="14.2">者应对作品拥有完整的著作权，并保证作品不</tspan><tspan x="305.9" dy="14.2">侵犯第三人的`包括著作权、肖像权、名誉权</tspan><tspan x="305.9" dy="14.2">、隐私权等在内的合法权益。主办方拥有对作</tspan><tspan x="305.9" dy="14.2">品进行非商业用途的宣传推广、复制传播、展</tspan><tspan x="305.9" dy="14.2">览出版的权利。相关作品于5月15日前提交到</tspan><tspan x="305.9" dy="14.2">各院系学工办，院系汇总后5月20日报保卫处</tspan><tspan x="305.9" dy="14.2">。每学工办要求至少报送1个微视频作品参赛</tspan><tspan x="305.9" dy="14.2">。评选出的优秀作品推荐参加山东省高等学校</tspan><tspan x="305.9" dy="14.2">安全保卫协会举办的全省评选。</tspan></text>
<path class="u" d="M300 2510.7H553.2"/>
</g>

<g id="p6">
<text class="t h" x="913.3" y="2822.4">学校国家安全教育日活动方案【篇<tspan x="913.3" dy="18.3">6】</tspan></text>
<path class="ut" d="M904 2852.8H1138.6"/>
</g>
<g id="p6-i">
<text class="t" x="656.7" y="2801.2">《国家安全法》规定每年4月15日为全民国家<tspan x="656.7" dy="14.3">安全教育日。为加强宣传教育，提升厅机关干</tspan><tspan x="656.7" dy="14.3">部职工国家安全意识，根据省国家安全领导小</tspan><tspan x="656.7" dy="14.3">组要求，结合我厅实际，提出如下活动方案：</tspan></text>
<path class="u" d="M640.5 2852.8H904"/>
</g>
<g id="p6-s1">
<text class="t" x="558.4" y="2637.3">一、活动主题</text>
<path class="u" d="M542.8 2645.2H630.3"/>
</g>
<g id="p6-s1-l">
<text class="t" x="306" y="2551.4">深入宣传贯彻总体国家安全观和国家安全工作<tspan x="306" dy="14.2">座谈会精神，以"国家安全，人人有责；平安</tspan><tspan x="306" dy="14.2">商务，我要尽责"为主题，采取组织观看宣传</tspan><tspan x="306" dy="14.2">片、开展专题学习讨论、播放宣传标语等形式</tspan><tspan x="306" dy="14.2">，面向厅机关干部职工开展宣传教育活动，增</tspan><tspan x="306" dy="14.2">强国家安全意识，提升维护国家安全和建设平</tspan><tspan x="306" dy="14.2">安商务能力。</tspan></text>
<path class="u" d="M300 2645.2H542.8"/>
</g>
<g id="p6-s2">
<text class="t" x="558.4" y="2686">二、活动时间</text>
<path class="u" d="M542.8 2693.9H630.3"/>
</g>
<g id="p6-s2-l">
<text class="t" x="416.9" y="2686">20__年4月10日—20日</text>
<path class="u" d="M410.9 2693.9H542.8"/>
</g>
<g id="p6-s3">
<text class="t" x="558.4" y="2826.9">三、活动内容</text>
<path class="u" d="M542.8 2834.4H630.3"/>
</g>
<g id="p6-s3-1">
<text class="t" x="306" y="2735.1">（一）安排一次以总体国家安全观和国家安全<tspan x="306" dy="14.2">工作座谈会精神为主要内容的专题学习。</tspan></text>
<path class="u" d="M300 2756.8H532.6"/>
</g>
<g id="p6-s3-1a">
<text class="t" x="119" y="2748.9">（以处室支部为单位自行组织）</text>
<path class="u" d="M114.1 2756.8H300"/>
</g>
<g id="p6-s3-2">
<text class="t" x="306" y="2798.5">（二）组织厅干部职工集中观看国家安全宣传<tspan x="306" dy="14.2">教育片《诡秘"漂流瓶"》和微电影《祸起"间"</tspan><tspan x="306" dy="14.2">职》。</tspan></text>
<path class="u" d="M300 2834.4H532.6"/>
</g>
<g id="p6-s3-2a">
<text class="t" x="53" y="2812.2">（4月13日下午2：40—3：30，请省国安厅<tspan x="53" dy="14.3">专人在厅二楼大会议室播放）</tspan></text>
<path class="u" d="M47 2834.4H300"/>
</g>
<g id="p6-s3-3">
<text class="t" x="328" y="2904">（三）开展平安商务建设标语警句宣传。</text>
<path class="u" d="M300 2912H532.6"/>
</g>
<g id="p6-s3-3a">
<text class="t" x="70" y="2875.6">（活动期间，运用厅二楼大厅LED屏、商务工<tspan x="70" dy="14.2">作群等媒体资源，滚动宣传平安商务建设标语</tspan><tspan x="70" dy="14.2">警句）</tspan></text>
<path class="u" d="M69.2 2912H300"/>
</g>
<g id="p6-s4">
<text class="t" x="558.4" y="3051.9">四、活动说明</text>
<path class="u" d="M542.8 3060.3H630.3"/>
</g>
<g id="p6-s4-1">
<text class="t" x="306" y="2952.7">（一）此次活动将纳入普法和综治年度考核内<tspan x="306" dy="14.2">容，作为考评依据。</tspan></text>
<path class="u" d="M300 2974.9H532.6"/>
</g>
<g id="p6-s4-2">
<text class="t" x="306" y="3016.1">（二）各处室要把开展全民国家安全教育活动<tspan x="306" dy="14.2">与平安商务建设、平安机关、平安处室、平安</tspan><tspan x="306" dy="14.2">家庭创建活动紧密结合，在专题学习后组织讨</tspan><tspan x="306" dy="14.2">论。</tspan></text>
<path class="u" d="M300 3066.3H532.6"/>
</g>
<g id="p6-s4-3">
<text class="t" x="306" y="3107.9">（三）各处室在学习讨论中提炼出的国家安全<tspan x="306" dy="14.2">和平安商务建设的警句将通过厅LED屏与全厅</tspan><tspan x="306" dy="14.2">干部职工共享。</tspan></text>
<path class="u" d="M300 3143.9H532.6"/>
</g>

<g id="watermarks">
<text class="wm" x="650" y="548" text-anchor="middle" transform="rotate(-30 650 510)"><tspan font-family="Noto Sans CJK SC">树图</tspan><tspan font-family="Liberation Serif" font-style="italic"> shutu.cn</tspan></text>
<text class="wm" x="1925" y="548" text-anchor="middle" transform="rotate(-30 1925 510)"><tspan font-family="Noto Sans CJK SC">树图</tspan><tspan font-family="Liberation Serif" font-style="italic"> shutu.cn</tspan></text>
<text class="wm" x="645" y="1553" text-anchor="middle" transform="rotate(-30 645 1515)"><tspan font-family="Noto Sans CJK SC">树图</tspan><tspan font-family="Liberation Serif" font-style="italic"> shutu.cn</tspan></text>
<text class="wm" x="1925" y="1553" text-anchor="middle" transform="rotate(-30 1925 1515)"><tspan font-family="Noto Sans CJK SC">树图</tspan><tspan font-family="Liberation Serif" font-style="italic"> shutu.cn</tspan></text>
<text class="wm" x="645" y="2548" text-anchor="middle" transform="rotate(-30 645 2510)"><tspan font-family="Noto Sans CJK SC">树图</tspan><tspan font-family="Liberation Serif" font-style="italic"> shutu.cn</tspan></text>
<text class="wm" x="1925" y="2548" text-anchor="middle" transform="rotate(-30 1925 2510)"><tspan font-family="Noto Sans CJK SC">树图</tspan><tspan font-family="Liberation Serif" font-style="italic"> shutu.cn</tspan></text>
<text class="wm" x="645" y="3548" text-anchor="middle" transform="rotate(-30 645 3510)"><tspan font-family="Noto Sans CJK SC">树图</tspan><tspan font-family="Liberation Serif" font-style="italic"> shutu.cn</tspan></text>
<text class="wm" x="1920" y="3548" text-anchor="middle" transform="rotate(-30 1920 3510)"><tspan font-family="Noto Sans CJK SC">树图</tspan><tspan font-family="Liberation Serif" font-style="italic"> shutu.cn</tspan></text>
<text class="wm" x="645" y="4408" text-anchor="middle" transform="rotate(-30 645 4370)"><tspan font-family="Noto Sans CJK SC">树图</tspan><tspan font-family="Liberation Serif" font-style="italic"> shutu.cn</tspan></text>
<text class="wm" x="1920" y="4408" text-anchor="middle" transform="rotate(-30 1920 4370)"><tspan font-family="Noto Sans CJK SC">树图</tspan><tspan font-family="Liberation Serif" font-style="italic"> shutu.cn</tspan></text>
</g>
</g>
</svg>
